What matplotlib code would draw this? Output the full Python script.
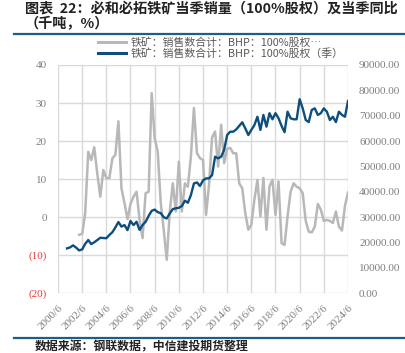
import matplotlib
matplotlib.use("Agg")
import matplotlib.pyplot as plt
import matplotlib.lines as mlines
import pandas as pd

plt.rcParams['font.family'] = ['Noto Sans CJK SC', 'DejaVu Sans']

# quarterly sales, kt (100% basis), 2001/3 .. 2024/6
sales = [
    17700, 18100, 18900, 18000,
    16900, 17300, 19500, 21000,
    19400, 20100, 21000, 21900,
    21800, 21700, 23000, 24100,
    26000, 28100, 26300, 26900,
    24900, 28500, 26900, 28200,
    25000, 26900, 28200, 30500,
    32500, 33000, 32000, 31600,
    30000, 29500, 31500, 33200,
    33500, 33700, 34400, 36500,
    35700, 38700, 43300, 43700,
    42300, 44500, 45300, 45300,
    46600, 53850, 53200, 53850,
    56500, 62400, 63700, 63700,
    64600, 66000, 67400, 65000,
    62400, 64400, 66300, 69600,
    64400, 70300, 65700, 71000,
    68600, 71000, 69000, 66000,
    63500, 71600, 69000, 68600,
    68600, 76500, 72900, 68300,
    67500, 72300, 72900, 70300,
    71000, 72900, 71600, 68300,
    69600, 67500, 71600, 70300,
    69600, 75800,
]

# YoY %, 2002/3 .. 2024/6
yoy = [
    -4.6, -4.4, 1.0, 17.2,
    15.0, 18.4, 11.5, 5.4,
    12.4, 10.3, 10.3, 15.5,
    16.4, 25.2, 7.6, 3.7,
    -0.5, 3.5, 5.4, 6.7,
    -0.7, -5.5, 6.3, 6.7,
    32.6, 20.8, 17.3, 3.7,
    -3.3, -11.2, 1.5, 8.9,
    1.5, 14.6, 1.5, 8.9,
    8.0, 15.9, 28.7, 16.8,
    15.5, 15.1, 0.6, 8.7,
    21.0, 22.5, 13.3, 24.3,
    14.2, 18.0, 18.2, 16.8,
    16.8, 8.9, 7.6, 1.0,
    -3.3, -2.0, 4.6, 9.8,
    0.2, 10.3, -3.3, 8.1,
    9.8, 0.6, 9.4, -6.8,
    -7.3, 0.2, 6.7, 8.9,
    8.0, 7.6, 6.3, -1.0,
    -3.8, -4.0, -2.5, 3.5,
    2.0, -1.0, -0.7, -1.0,
    -1.5, 1.5, -2.5, -3.5,
    3.0, 6.5,
]

sales_dates = pd.date_range("2001-03-31", periods=len(sales), freq="QE")
yoy_dates = pd.date_range("2002-03-31", periods=len(yoy), freq="QE")

tick_years = list(range(2000, 2025, 2))
tick_dates = [pd.Timestamp(f"{y}-06-30") for y in tick_years]
tick_labels = [f"{y}/6" for y in tick_years]

left_ticks = [40, 30, 20, 10, 0, -10, -20]
right_ticks = [0, 10000, 20000, 30000, 40000, 50000, 60000, 70000, 80000, 90000]

label_gray = "铁矿：销售数合计：BHP：100%股权…"
label_blue = "铁矿：销售数合计：BHP：100%股权（季）"

GRAY = "#b8b8b8"
BLUE = "#0d4e7c"
BAR = "#1f5c8a"
TXT = "#7f7f7f"

fig = plt.figure(figsize=(4.06, 3.53), dpi=100)
ax = fig.add_axes([58 / 406, 1 - 293.3 / 353, 290 / 406, 228.3 / 353])
ax2 = ax.twinx()

ax.plot(yoy_dates, yoy, color=GRAY, lw=1.8)
ax2.plot(sales_dates, sales, color=BLUE, lw=1.7)

ax.set_xlim(tick_dates[0], tick_dates[-1])
ax.set_ylim(-20, 40)
ax2.set_ylim(0, 90000)
ax.set_xticks(tick_dates)
ax.set_xticklabels(tick_labels, rotation=45, ha="right", rotation_mode="anchor",
                   family="Liberation Serif", fontsize=8, color=TXT)
ax.set_yticks(left_ticks)
ax.set_yticklabels([f"({-v})" if v < 0 else str(v) for v in left_ticks],
                   family="Liberation Serif", fontsize=8)
for lab, v in zip(ax.get_yticklabels(), left_ticks):
    lab.set_color("#f03c3c" if v < 0 else TXT)
ax2.set_yticks(right_ticks)
ax2.set_yticklabels([f"{v:.2f}" for v in right_ticks],
                    family="Liberation Serif", fontsize=8, color=TXT)

ax.grid(True, color="#d9d9d9", lw=1)
for a in (ax, ax2):
    for s in a.spines.values():
        s.set_visible(False)
ax.tick_params(axis="both", length=0)
ax.tick_params(axis="y", pad=8)
ax.tick_params(axis="x", pad=7)
ax2.tick_params(axis="y", length=0, pad=8)

h1 = mlines.Line2D([], [], color=GRAY, lw=2.2)
h2 = mlines.Line2D([], [], color=BLUE, lw=2.2)
fig.legend([h1, h2], [label_gray, label_blue], loc="upper left",
           bbox_to_anchor=(98 / 406, 1 - 37 / 353), frameon=False,
           fontsize=7.8, labelcolor="#595959", handlelength=2.6,
           handletextpad=0.45, borderpad=0, borderaxespad=0, labelspacing=0.02)

fig.text(25 / 406, 1 - 2 / 353, "图表  22：必和必拓铁矿当季销量（100%股权）及当季同比",
         fontsize=10.2, fontweight="bold", color="#222222", va="top")
fig.text(25 / 406, 1 - 17 / 353, "（千吨，%）",
         fontsize=10.2, fontweight="bold", color="#222222", va="top")
fig.add_artist(mlines.Line2D([14 / 406, 1], [1 - 34 / 353] * 2, color=BAR, lw=1.6))
fig.add_artist(mlines.Line2D([14 / 406, 1], [1 - 338 / 353] * 2, color=BAR, lw=1.6))
fig.text(35 / 406, 1 - 340.5 / 353, "数据来源：钢联数据，中信建投期货整理",
         fontsize=8.6, fontweight="bold", style="italic", color="#222222", va="top")

fig.savefig("out.png", dpi=100)
